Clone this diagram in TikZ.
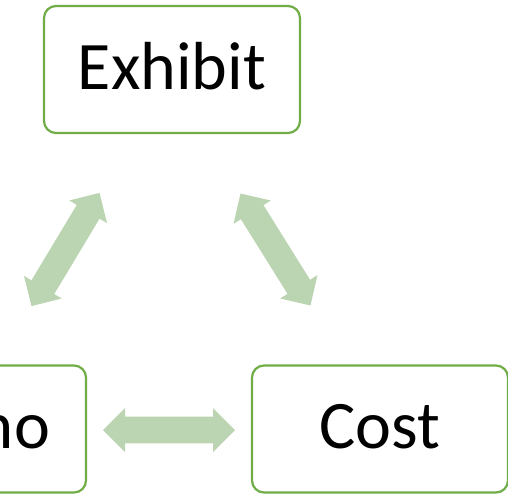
\documentclass[tikz,border=0pt]{standalone}
\usepackage{fontspec}
\setmainfont{Carlito}
\definecolor{boxline}{HTML}{70AD47}
\definecolor{arrowfill}{HTML}{BBD5B2}
\tikzset{
  stage/.style={draw=boxline, line width=2.2pt, rounded corners=12pt, fill=white,
    minimum width=256pt, minimum height=127pt, inner sep=0pt,
    text height=39.5pt, text depth=0pt, font=\fontsize{68pt}{68pt}\selectfont},
  pics/dblarrow/.style={code={
    \fill[arrowfill] (-66,0) -- (-44,22) -- (-44,13.3) -- (44,13.3) -- (44,22)
      -- (66,0) -- (44,-22) -- (44,-13.3) -- (-44,-13.3) -- (-44,-22) -- cycle;
  }}
}
\begin{document}
\begin{tikzpicture}[x=1pt, y=-1pt]
  \clip (0,0) rectangle (508,493);
  \fill[white] (0,0) rectangle (508,493);
  % the three stages
  \node[stage] (exhibit) at (172,69.5) {Exhibit};
  \node[stage] (promo) at (-42,429) {Promo};
  \node[stage] (cost) at (380,429) {Cost};
  % two-way links between the stages
  \pic (linkleft) at (65.5,249.5) [rotate=59] {dblarrow};
  \pic (linkright) at (275.5,249.5) [rotate=-58] {dblarrow};
  \pic (linkbottom) at (169,430) {dblarrow};
\end{tikzpicture}
\end{document}
